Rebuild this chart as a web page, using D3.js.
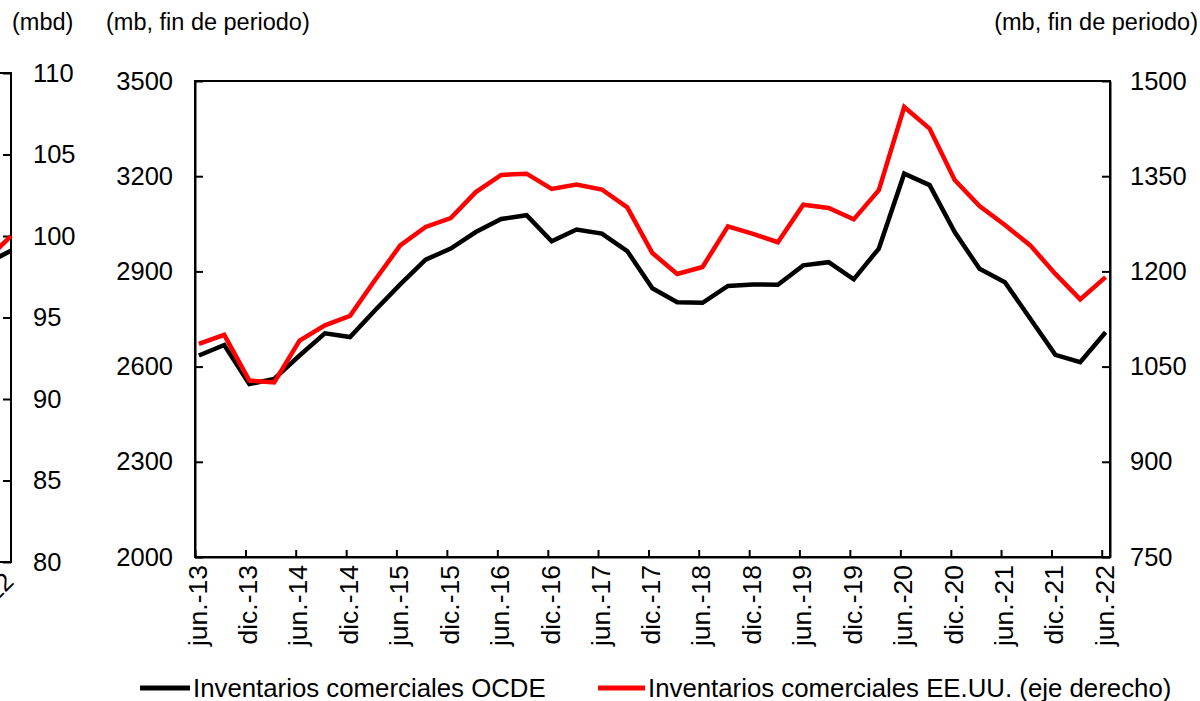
<!DOCTYPE html>
<html>
<head>
<meta charset="utf-8">
<script src="https://cdn.jsdelivr.net/npm/d3@7"></script>
<style>
  body { margin: 0; background: #fff; }
  svg { display: block; font-family: "Liberation Sans", Arial, sans-serif; }
  .axis path, .axis line { stroke: #000; stroke-width: 2px; }
  .axis text { fill: #000; font-size: 25.5px; }
  .xaxis text { font-size: 26.5px; }
</style>
</head>
<body>
<div id="chart"></div>
<script>
"use strict";

// quarterly periods, end of quarter
var periods = ["2013-06","2013-09","2013-12","2014-03","2014-06","2014-09","2014-12","2015-03",
  "2015-06","2015-09","2015-12","2016-03","2016-06","2016-09","2016-12","2017-03","2017-06",
  "2017-09","2017-12","2018-03","2018-06","2018-09","2018-12","2019-03","2019-06","2019-09",
  "2019-12","2020-03","2020-06","2020-09","2020-12","2021-03","2021-06","2021-09","2021-12",
  "2022-03","2022-06"];

// OECD commercial inventories (mb, left axis)
var ocde = [2635, 2668, 2545, 2561, 2635, 2705, 2693, 2777, 2859, 2937, 2972, 3024, 3065,
  3077, 2995, 3032, 3019, 2964, 2847, 2803, 2801, 2854, 2859, 2858, 2919, 2929, 2875,
  2972, 3208, 3172, 3024, 2908, 2866, 2751, 2637, 2614, 2708];

// US commercial inventories (mb, right axis)
var eeuu = [1086, 1100, 1028, 1025, 1091, 1115, 1130, 1186, 1241, 1270, 1284, 1325, 1352,
  1354, 1330, 1337, 1329, 1301, 1229, 1196, 1207, 1271, 1259, 1246, 1305, 1300, 1282,
  1328, 1459, 1425, 1344, 1303, 1273, 1241, 1196, 1156, 1191];

var leftTicks = [2000, 2300, 2600, 2900, 3200, 3500];
var rightTicks = [750, 900, 1050, 1200, 1350, 1500];
var monthNames = { 6: "jun.", 12: "dic." };

// the neighbouring chart that is cut off at the left edge (mbd)
var prevTicks = [80, 85, 90, 95, 100, 105, 110];
var prevBlack = [98.3, 99.1];
var prevRed = [98.5, 100.0];
var prevTickLabel = "2022";

var width = 1200, height = 701;
var plot = { left: 195, right: 1110, top: 81, bottom: 557 };

var svg = d3.select("#chart").append("svg")
  .attr("width", width)
  .attr("height", height);

var parseMonth = d3.timeParse("%Y-%m");
var dates = periods.map(function(p) {
  var d = parseMonth(p);
  return new Date(d.getFullYear(), d.getMonth(), 15);
});

var x = d3.scaleTime()
  .domain([new Date(2013, 5, 1), new Date(2022, 6, 1)])
  .range([plot.left, plot.right]);
var yL = d3.scaleLinear().domain([2000, 3500]).range([plot.bottom, plot.top]);
var yR = d3.scaleLinear().domain([750, 1500]).range([plot.bottom, plot.top]);

var xTicks = [];
for (var yr = 2013; yr <= 2022; yr++) {
  xTicks.push(new Date(yr, 5, 1));
  if (yr < 2022) xTicks.push(new Date(yr, 11, 1));
}
function fmtDate(d) {
  return monthNames[d.getMonth() + 1] + "-" + String(d.getFullYear()).slice(2);
}

// frame
svg.append("rect")
  .attr("x", plot.left).attr("y", plot.top)
  .attr("width", plot.right - plot.left).attr("height", plot.bottom - plot.top)
  .attr("fill", "none").attr("stroke", "#000").attr("stroke-width", 2);

svg.append("g").attr("class", "axis")
  .attr("transform", "translate(" + plot.left + ",0)")
  .call(d3.axisLeft(yL).tickValues(leftTicks).tickFormat(d3.format("d"))
    .tickSize(-8).tickPadding(22).tickSizeOuter(0));

svg.append("g").attr("class", "axis")
  .attr("transform", "translate(" + plot.right + ",0)")
  .call(d3.axisRight(yR).tickValues(rightTicks).tickFormat(d3.format("d"))
    .tickSize(-8).tickPadding(20).tickSizeOuter(0));

var xAxis = svg.append("g").attr("class", "axis xaxis")
  .attr("transform", "translate(0," + plot.bottom + ")")
  .call(d3.axisBottom(x).tickValues(xTicks).tickFormat(fmtDate).tickSize(-7).tickSizeOuter(0));
xAxis.selectAll("text")
  .attr("text-anchor", "end")
  .attr("transform", "rotate(-90)")
  .attr("x", -8).attr("y", 2).attr("dy", "0.35em");

var lineL = d3.line().x(function(d, i) { return x(dates[i]); }).y(function(d) { return yL(d); });
var lineR = d3.line().x(function(d, i) { return x(dates[i]); }).y(function(d) { return yR(d); });

svg.append("path").datum(ocde)
  .attr("d", lineL).attr("fill", "none").attr("stroke", "#000")
  .attr("stroke-width", 4.5).attr("stroke-linejoin", "miter");
svg.append("path").datum(eeuu)
  .attr("d", lineR).attr("fill", "none").attr("stroke", "#ff0000")
  .attr("stroke-width", 4.5).attr("stroke-linejoin", "miter");

// axis titles
svg.append("text").attr("x", 106).attr("y", 30).attr("font-size", 23.5)
  .text("(mb, fin de periodo)");
svg.append("text").attr("x", 1198).attr("y", 30).attr("font-size", 23.5)
  .attr("text-anchor", "end").text("(mb, fin de periodo)");
svg.append("text").attr("x", 12).attr("y", 30).attr("font-size", 23.5)
  .text("(mbd)");

// cut-off chart on the left
var prevY = d3.scaleLinear().domain([80, 110]).range([562, 73]);
var prevX = d3.scaleLinear().domain([0, 1]).range([-14, 11]);
svg.append("path")
  .attr("d", "M0,73H11V562H0").attr("fill", "none").attr("stroke", "#000").attr("stroke-width", 2);
svg.append("g").attr("class", "axis")
  .attr("transform", "translate(11,0)")
  .call(d3.axisRight(prevY).tickValues(prevTicks).tickSize(-8).tickPadding(22).tickSizeOuter(0))
  .select(".domain").remove();
var prevLine = d3.line().x(function(d, i) { return prevX(i); }).y(function(d) { return prevY(d); });
svg.append("path").datum(prevBlack).attr("d", prevLine)
  .attr("fill", "none").attr("stroke", "#000").attr("stroke-width", 4.5);
svg.append("path").datum(prevRed).attr("d", prevLine)
  .attr("fill", "none").attr("stroke", "#ff0000").attr("stroke-width", 4.5);
svg.append("text")
  .attr("transform", "translate(9,577) rotate(-45)")
  .attr("text-anchor", "end").attr("dy", "0.35em").attr("font-size", 25)
  .text(prevTickLabel);

// legend
var legend = [
  { label: "Inventarios comerciales OCDE", color: "#000", x1: 140, x2: 190, tx: 193 },
  { label: "Inventarios comerciales EE.UU. (eje derecho)", color: "#ff0000", x1: 598, x2: 645, tx: 648 }
];
var lg = svg.append("g").selectAll("g").data(legend).enter().append("g");
lg.append("line")
  .attr("x1", function(d) { return d.x1; }).attr("x2", function(d) { return d.x2; })
  .attr("y1", 688).attr("y2", 688)
  .attr("stroke", function(d) { return d.color; }).attr("stroke-width", 5);
lg.append("text")
  .attr("x", function(d) { return d.tx; }).attr("y", 688).attr("dy", "0.35em")
  .attr("font-size", 25.8)
  .text(function(d) { return d.label; });
</script>
</body>
</html>
